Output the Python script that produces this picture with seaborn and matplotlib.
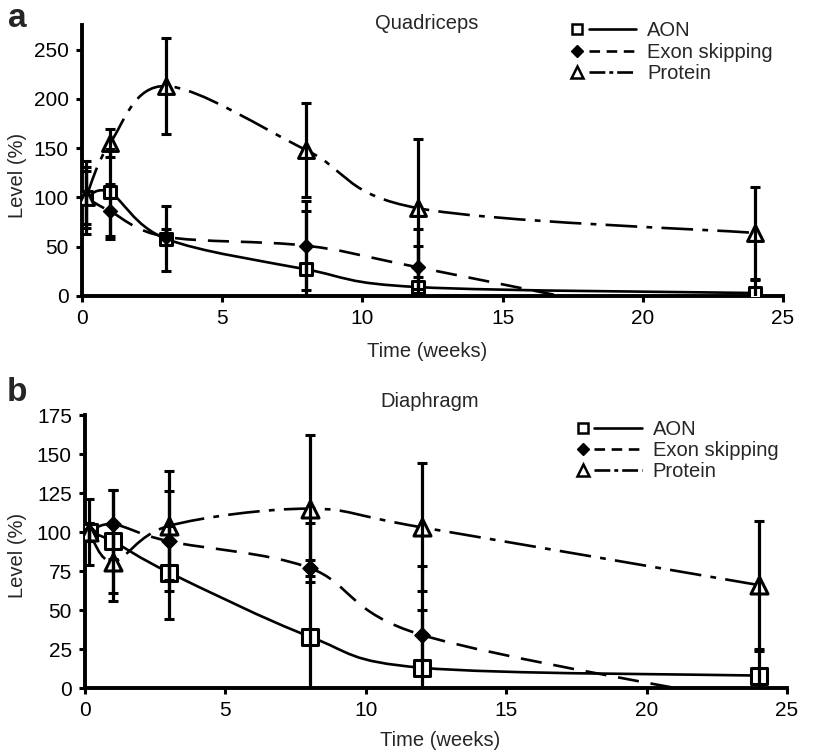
import numpy as np
import matplotlib
matplotlib.use("Agg")
import matplotlib.pyplot as plt
import seaborn as sns
from matplotlib.path import Path
from matplotlib.patches import PathPatch
from matplotlib.lines import Line2D
from matplotlib.legend_handler import HandlerTuple

# time points (weeks): 1 day, 1, 3, 8, 12, 24 weeks
weeks = [1 / 7, 1, 3, 8, 12, 24]
series_names = ["AON", "Exon skipping", "Protein"]

# Quadriceps (mean, sd)
quad_aon = [100, 105, 58, 27, 9, 3]
quad_aon_sd = [37, 44, 33, 59, 59, 13]
quad_exon = [100, 86, 60, 51, 29, -40]
quad_exon_sd = [31, 28, 8, 45, 22, 10]
quad_prot = [100, 155, 213, 148, 89, 64]
quad_prot_sd = [27, 14, 49, 48, 70, 47]

# Diaphragm
dia_aon = [100, 94, 74, 33, 13, 8]
dia_aon_sd = [21, 33, 30, 73, 65, 16]
dia_exon = [100, 105, 94, 77, 34, -10]
dia_exon_sd = [6, 22, 32, 5, 16, 5]
dia_prot = [100, 81, 104, 115, 103, 66]
dia_prot_sd = [6, 25, 35, 47, 41, 41]

sns.set_theme(style="ticks")
plt.rcParams["font.family"] = ["Liberation Sans", "DejaVu Sans"]
plt.rcParams["axes.linewidth"] = 2.8
plt.rcParams["xtick.major.width"] = 2.2
plt.rcParams["ytick.major.width"] = 2.2
plt.rcParams["xtick.major.size"] = 4.5
plt.rcParams["ytick.major.size"] = 4.5
plt.rcParams["xtick.labelsize"] = 15
plt.rcParams["ytick.labelsize"] = 15
plt.rcParams["xtick.color"] = "black"
plt.rcParams["ytick.color"] = "black"
plt.rcParams["axes.edgecolor"] = "black"


def smooth_path(xs, ys):
    # Excel-style smoothed line through the points (cubic Bezier segments)
    pts = np.column_stack([xs, ys]).astype(float)
    n = len(pts)
    verts = [pts[0]]
    codes = [Path.MOVETO]
    for i in range(n - 1):
        p0 = pts[max(i - 1, 0)]
        p1 = pts[i]
        p2 = pts[i + 1]
        p3 = pts[min(i + 2, n - 1)]
        verts += [p1 + (p2 - p0) / 6, p2 - (p3 - p1) / 6, p2]
        codes += [Path.CURVE4] * 3
    return Path(verts, codes)


line_styles = ["-", (0, (8, 4.5)), (0, (12, 3.5, 2.2, 3.5))]
marker_kw = [
    dict(marker="s", color="white", edgecolor="black", linewidth=2.2),
    dict(marker="D", color="black", edgecolor="black", linewidth=1),
    dict(marker="^", color="white", edgecolor="black", linewidth=2.2),
]


def draw_panel(ax, ys, sds, sizes, ymax, yticks, title, title_xy, leg_anchor):
    for k in range(3):
        patch = PathPatch(smooth_path(weeks, ys[k]), fill=False, edgecolor="black",
                          lw=1.9, linestyle=line_styles[k], zorder=2,
                          capstyle="butt", joinstyle="round")
        ax.add_patch(patch)
        sns.scatterplot(x=weeks, y=ys[k], s=sizes[k], ax=ax, zorder=3,
                        legend=False, **marker_kw[k])
        ax.errorbar(weeks, ys[k], yerr=sds[k], fmt="none", ecolor="black",
                    elinewidth=2.3, capsize=3.6, capthick=2.2, zorder=4)
    ax.set_xlim(0, 25)
    ax.set_ylim(0, ymax)
    ax.set_xticks([0, 5, 10, 15, 20, 25])
    ax.set_yticks(yticks)
    ax.spines["right"].set_visible(False)
    ax.spines["top"].set_visible(False)
    ax.tick_params(axis="both", direction="out", pad=5)
    ax.set_xlabel("Time (weeks)", fontsize=14.5)
    ax.set_ylabel("Level (%)", fontsize=14.5)
    ax.text(title_xy[0], title_xy[1], title, transform=ax.transAxes,
            ha="center", va="center", fontsize=14.5)

    handles = [
        (Line2D([], [], marker="s", ls="none", ms=6.5, mfc="white", mec="black", mew=1.8),
         Line2D([], [], color="black", lw=1.9, ls=line_styles[0])),
        (Line2D([], [], marker="D", ls="none", ms=6, mfc="black", mec="black"),
         Line2D([], [], color="black", lw=1.9, ls=(0, (4, 2.5)))),
        (Line2D([], [], marker="^", ls="none", ms=8, mfc="white", mec="black", mew=1.8),
         Line2D([], [], color="black", lw=1.9, ls=(0, (6, 1.5, 1.5, 1.5)))),
    ]
    ax.legend(handles, series_names, handler_map={tuple: HandlerTuple(ndivide=None, pad=-0.58)},
              loc="upper left", bbox_to_anchor=leg_anchor, bbox_transform=fig.transFigure,
              frameon=False, fontsize=14.5, handlelength=4.1, handletextpad=0.55,
              labelspacing=0.12, borderpad=0, borderaxespad=0, numpoints=1)


fig = plt.figure(figsize=(8.19, 7.56), dpi=100)
ax_a = fig.add_axes([0.1001, 0.6085, 0.856, 0.3585])
ax_b = fig.add_axes([0.1038, 0.0899, 0.857, 0.3611])

draw_panel(ax_a, [quad_aon, quad_exon, quad_prot], [quad_aon_sd, quad_exon_sd, quad_prot_sd],
           [85, 50, 130], 275, [0, 50, 100, 150, 200, 250], "Quadriceps", (0.492, 1.004),
           (0.676, 0.9716))
draw_panel(ax_b, [dia_aon, dia_exon, dia_prot], [dia_aon_sd, dia_exon_sd, dia_prot_sd],
           [135, 60, 150], 175, [0, 25, 50, 75, 100, 125, 150, 175], "Diaphragm", (0.491, 1.048),
           (0.6825, 0.445))

ax_a.xaxis.set_label_coords(0.492, -0.168)
ax_a.yaxis.set_label_coords(-0.078, 0.446)
ax_b.xaxis.set_label_coords(0.506, -0.156)
ax_b.yaxis.set_label_coords(-0.082, 0.487)

fig.text(0.021, 0.976, "a", fontsize=24, fontweight="bold", ha="center", va="center")
fig.text(0.021, 0.481, "b", fontsize=24, fontweight="bold", ha="center", va="center")

fig.savefig("out.png", dpi=100)
